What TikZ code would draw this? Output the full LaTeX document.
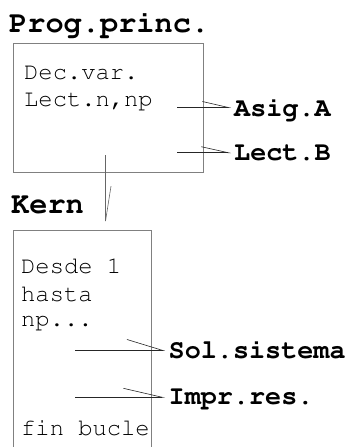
\documentclass[tikz,border=0pt]{standalone}
\usepackage[T1]{fontenc}
\usetikzlibrary{arrows.meta}
% Courier (URW Nimbus Mono) for every text
\newcommand\courfont{\fontencoding{T1}\fontfamily{pcr}\selectfont}
\tikzset{
  frame/.style={draw=black!50, line width=0.9pt, anchor=north west, inner sep=0pt},
  head/.style={anchor=base west, inner sep=0pt, font=\courfont\bfseries\fontsize{30.3}{31}\selectfont},
  label/.style={anchor=base west, inner sep=0pt, font=\courfont\bfseries\fontsize{26.8}{28}\selectfont},
  body/.style={anchor=base west, inner sep=0pt, font=\courfont\fontsize{23.8}{24}\selectfont},
  barb/.style 2 args={line width=0.6pt, draw=black!85,
    -{Straight Barb[harpoon, length=#1, width=#2, line width=0.6pt]}},
}
\begin{document}
\begin{tikzpicture}[x=1pt, y=-1pt]
\useasboundingbox (0,0) rectangle (347,447);

% main program
\node[head] (prog) at (9,32) {Prog.princ.};
\node[frame, minimum width=190pt, minimum height=129pt] (pbox) at (13,43) {};
\node[body] (l1) at (24,79) {Dec.var.};
\node[body] (l2) at (24,106) {Lect.n,np};
\node[label] (asig) at (234,116) {Asig.A};
\node[label] (lectb) at (234,160.5) {Lect.B};

% kernel
\node[head] (kern) at (11,213) {Kern};
\node[frame, minimum width=138pt, minimum height=240pt] (kbox) at (13,230) {};
\node[body] (k1) at (21,273) {Desde 1};
\node[body] (k2) at (21,301) {hasta};
\node[body] (k3) at (21,326) {np...};
\node[body] (k4) at (21,435) {fin bucle};
\node[label] (sol) at (168.5,358) {Sol.sistema};
\node[label] (impr) at (168.5,404.5) {Impr.res.};

% connector end points
\coordinate (a0) at (177,107.5);  \coordinate (a1) at (231,107.5);
\coordinate (b0) at (177,152.7);  \coordinate (b1) at (231,152.7);
\coordinate (c0) at (105.5,155);  \coordinate (c1) at (105.5,225);
\coordinate (d0) at (75,350.5);   \coordinate (d1) at (165,350.5);
\coordinate (e0) at (75,397.3);   \coordinate (e1) at (165,397.3);

\draw[barb={26pt}{12pt}] (a0) -- (a1);
\draw[barb={27pt}{12pt}] (b0) -- (b1);
\draw[barb={35pt}{11pt}, draw=black!60] (c0) -- (c1);
\draw[barb={36pt}{22pt}] (d0) -- (d1);
\draw[barb={39pt}{18pt}] (e0) -- (e1);
\end{tikzpicture}
\end{document}
